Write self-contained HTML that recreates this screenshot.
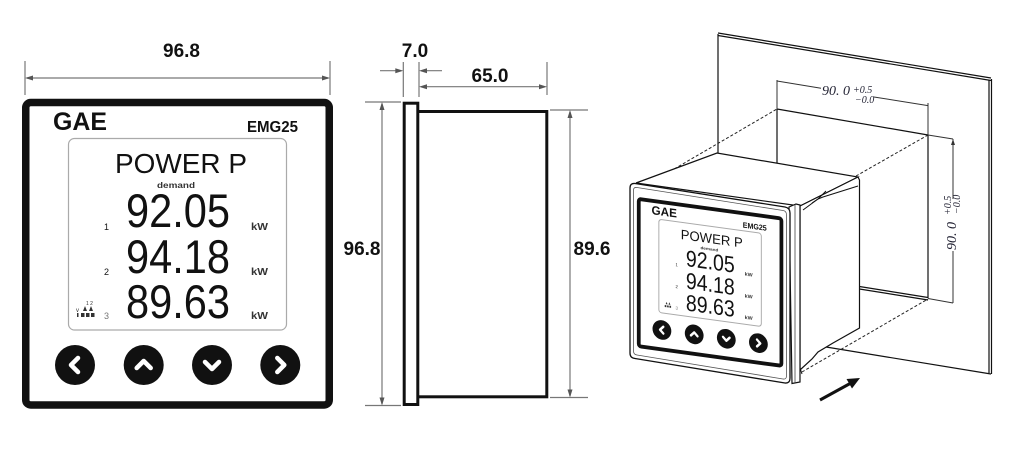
<!DOCTYPE html>
<html><head><meta charset="utf-8">
<style>html,body{margin:0;padding:0;background:#fff}svg{display:block}</style>
</head><body>
<svg width="1015" height="454" viewBox="0 0 1015 454" xmlns="http://www.w3.org/2000/svg" font-family="Liberation Sans, sans-serif">
<rect width="1015" height="454" fill="#fff"/>

<!-- ============ LEFT: front view ============ -->
<g stroke="#777" stroke-width="1.2" fill="none">
  <line x1="25" y1="61" x2="25" y2="95"/>
  <line x1="330" y1="61" x2="330" y2="95"/>
  <line x1="27" y1="78" x2="328" y2="78"/>
</g>
<polygon points="25,78 33,75.5 33,80.5" fill="#555"/>
<polygon points="330,78 322,75.5 322,80.5" fill="#555"/>
<text x="181.5" y="57" font-size="19" font-weight="bold" text-anchor="middle" fill="#111">96.8</text>

<g>
  <rect x="25.75" y="102.5" width="303.5" height="302.5" rx="5" fill="#fff" stroke="#111" stroke-width="7.5"/>
  <rect x="68.5" y="138.5" width="218" height="191.5" rx="6" fill="#fff" stroke="#aaa" stroke-width="1.2"/>
  <text x="53" y="130" font-size="25" font-weight="bold" textLength="54" lengthAdjust="spacingAndGlyphs" fill="#111">GAE</text>
  <text x="247" y="132" font-size="16" font-weight="bold" textLength="51" lengthAdjust="spacingAndGlyphs" fill="#111">EMG25</text>
  <text x="115" y="173" font-size="28" textLength="132" lengthAdjust="spacingAndGlyphs" fill="#111">POWER P</text>
  <text x="157" y="188" font-size="8" font-weight="bold" textLength="38" lengthAdjust="spacingAndGlyphs" fill="#333">demand</text>
  <text x="126" y="227" font-size="47" font-family="Liberation Sans Narrow, Liberation Sans, sans-serif" textLength="104" lengthAdjust="spacingAndGlyphs" fill="#111">92.05</text>
  <text x="126" y="273" font-size="47" font-family="Liberation Sans Narrow, Liberation Sans, sans-serif" textLength="104" lengthAdjust="spacingAndGlyphs" fill="#111">94.18</text>
  <text x="126" y="318" font-size="47" font-family="Liberation Sans Narrow, Liberation Sans, sans-serif" textLength="104" lengthAdjust="spacingAndGlyphs" fill="#111">89.63</text>
  <text x="104" y="230" font-size="9" fill="#111">1</text>
  <text x="104" y="275" font-size="9" fill="#111">2</text>
  <text x="104" y="319" font-size="9" fill="#777">3</text>
  <text x="251" y="230" font-size="10" font-weight="bold" textLength="17" lengthAdjust="spacingAndGlyphs" fill="#333">kW</text>
  <text x="251" y="275" font-size="10" font-weight="bold" textLength="17" lengthAdjust="spacingAndGlyphs" fill="#333">kW</text>
  <text x="251" y="319" font-size="10" font-weight="bold" textLength="17" lengthAdjust="spacingAndGlyphs" fill="#333">kW</text>
  <text x="86" y="305" font-size="5" fill="#333">1 2</text>
  <text x="76" y="312" font-size="6" fill="#333">v</text>
  <g fill="#333">
    <polygon points="83,311 85,306 87,311"/><polygon points="89,311 91,306 93,311"/>
    <rect x="77" y="313" width="1.5" height="4"/>
    <rect x="81" y="313" width="3.5" height="4"/><rect x="86" y="313" width="3.5" height="4"/><rect x="91" y="313" width="3.5" height="4"/>
  </g>
  <g fill="#111">
    <circle cx="75" cy="365" r="20"/><circle cx="143.7" cy="365" r="20"/>
    <circle cx="212" cy="365" r="20"/><circle cx="280.3" cy="365" r="20"/>
  </g>
  <g fill="none" stroke="#fff" stroke-width="4.5" stroke-linecap="round" stroke-linejoin="round">
    <polyline points="78,358 71,365 78,372"/>
    <polyline points="136.7,368 143.7,361 150.7,368"/>
    <polyline points="205,362 212,369 219,362"/>
    <polyline points="277.3,358 284.3,365 277.3,372"/>
  </g>
</g>

<!-- ============ MIDDLE: side view ============ -->
<rect x="410" y="111.5" width="136.8" height="285.3" fill="#fff" stroke="#111" stroke-width="3"/>
<rect x="404.2" y="103.2" width="13.6" height="301.3" fill="#fff" stroke="#111" stroke-width="3"/>
<g stroke="#777" stroke-width="1.2" fill="none">
  <line x1="365" y1="102" x2="401" y2="102"/>
  <line x1="365" y1="405.5" x2="401" y2="405.5"/>
  <line x1="382" y1="104" x2="382" y2="404"/>
  <line x1="550" y1="110" x2="588" y2="110"/>
  <line x1="550" y1="397.5" x2="588" y2="397.5"/>
  <line x1="570" y1="112" x2="570" y2="396"/>
  <line x1="403.3" y1="62" x2="403.3" y2="97"/>
  <line x1="419" y1="62" x2="419" y2="97"/>
  <line x1="547" y1="62" x2="547" y2="95"/>
  <line x1="380" y1="70.7" x2="401" y2="70.7"/>
  <line x1="421" y1="70.7" x2="442" y2="70.7"/>
  <line x1="421" y1="86.7" x2="545" y2="86.7"/>
</g>
<g fill="#555">
  <polygon points="382,102 379.5,110 384.5,110"/>
  <polygon points="382,405.5 379.5,397.5 384.5,397.5"/>
  <polygon points="570,110 567.5,118 572.5,118"/>
  <polygon points="570,397.5 567.5,389.5 572.5,389.5"/>
  <polygon points="403.3,70.7 395.3,68.2 395.3,73.2"/>
  <polygon points="419,70.7 427,68.2 427,73.2"/>
  <polygon points="419,86.7 427,84.2 427,89.2"/>
  <polygon points="547,86.7 539,84.2 539,89.2"/>
</g>
<g font-size="19" font-weight="bold" fill="#111" text-anchor="middle">
  <text x="415" y="57">7.0</text>
  <text x="490" y="82">65.0</text>
  <text x="362" y="255">96.8</text>
  <text x="592" y="255">89.6</text>
</g>

<!-- ============ RIGHT: isometric mounting view ============ -->
<!-- panel plate -->
<g stroke="#111" fill="none" stroke-width="1.2">
  <line x1="718" y1="33" x2="991" y2="78"/>
  <line x1="718" y1="35.5" x2="991" y2="80.5"/>
  <line x1="718" y1="34" x2="718" y2="160"/>
  <line x1="989" y1="80" x2="989" y2="373"/>
  <line x1="991.5" y1="79" x2="991.5" y2="374"/>
  <line x1="820" y1="346" x2="991" y2="374"/>
  <!-- cutout -->
  <line x1="777" y1="109" x2="928" y2="135"/>
  <line x1="777" y1="109" x2="777" y2="170"/>
  <line x1="928" y1="135" x2="928" y2="298"/>
  <line x1="850" y1="285" x2="928" y2="297.5"/>
  <line x1="850" y1="287.5" x2="928" y2="300"/>
</g>
<!-- dimensions on panel -->
<g stroke="#333" fill="none" stroke-width="1">
  <line x1="777" y1="80" x2="777" y2="109"/>
  <line x1="928" y1="103" x2="928" y2="135"/>
  <line x1="777" y1="81" x2="821" y2="88.2"/>
  <line x1="874" y1="97" x2="928" y2="105.6"/>
  <line x1="928" y1="135" x2="953" y2="139"/>
  <line x1="953" y1="139" x2="953" y2="199"/>
  <line x1="953" y1="251" x2="953" y2="303"/>
  <line x1="928" y1="298.5" x2="953" y2="303"/>
</g>
<polygon points="953,139 951,145 955,145" fill="#333"/>
<g font-family="Liberation Serif, serif" font-style="italic" fill="#223">
  <text x="822" y="95" font-size="14">90. 0</text>
  <text x="853" y="93" font-size="10">+0.5</text>
  <text x="855" y="103" font-size="10">−0.0</text>
  <g transform="translate(956,250) rotate(-90)">
    <text x="0" y="0" font-size="14">90. 0</text>
    <text x="35" y="-5" font-size="10">+0.5</text>
    <text x="36" y="4" font-size="10">−0.0</text>
  </g>
</g>
<!-- dashed projection lines -->
<g stroke="#222" stroke-width="1" stroke-dasharray="3,2" fill="none">
  <line x1="657" y1="179" x2="777" y2="109"/>
  <line x1="856" y1="176" x2="928" y2="135"/>
  <line x1="802" y1="372" x2="928" y2="299"/>
</g>
<!-- device body -->
<polygon points="636,183 717,153 858,177 800,206" fill="#fff" stroke="#111" stroke-width="1.2"/>
<polygon points="800,206 858,177 859.5,180 859.5,328 833,343 818,352 812,359 800,370" fill="#fff" stroke="#111" stroke-width="1.2"/>
<g stroke="#111" fill="none" stroke-width="1">
  <polyline points="803,210 818,199 823,197 858,186"/>
  <polyline points="812,203 818,199 826,191"/>
  <line x1="800" y1="368" x2="802" y2="374"/>
</g>
<!-- bezel -->
<polygon points="789,207 796,204 800,205 800,382 792,383.5" fill="#fff" stroke="#111" stroke-width="1.2"/>
<line x1="795" y1="205" x2="795" y2="383" stroke="#444" stroke-width="0.8"/>
<path d="M630,188 Q630,183 635,183.5 L785,207 Q790,208 790,213 L790,378 Q790,383.5 785,383 L635,358.5 Q630,358 630,353 Z" fill="#fff" stroke="#111" stroke-width="1.3"/>
<path d="M633.5,190 Q633.5,187 637,187.5 L783,210.5 Q786.5,211 786.5,215 L786.5,376 Q786.5,379.5 783,379 L637,355 Q633.5,354.5 633.5,351 Z" fill="none" stroke="#555" stroke-width="0.8"/>

<!-- front face (transformed copy) -->
<g transform="matrix(0.47,0.0644,0,0.487,626.66,147.37)">
  <rect x="25.75" y="102.5" width="303.5" height="302.5" rx="5" fill="#fff" stroke="#111" stroke-width="8"/>
  <rect x="68.5" y="138.5" width="218" height="191.5" rx="6" fill="#fff" stroke="#aaa" stroke-width="2"/>
  <text x="53" y="130" font-size="25" font-weight="bold" textLength="54" lengthAdjust="spacingAndGlyphs" fill="#111">GAE</text>
  <text x="247" y="132" font-size="16" font-weight="bold" textLength="51" lengthAdjust="spacingAndGlyphs" fill="#111">EMG25</text>
  <text x="115" y="173" font-size="28" textLength="132" lengthAdjust="spacingAndGlyphs" fill="#111">POWER P</text>
  <text x="157" y="188" font-size="8" font-weight="bold" textLength="38" lengthAdjust="spacingAndGlyphs" fill="#333">demand</text>
  <text x="126" y="227" font-size="47" font-family="Liberation Sans Narrow, Liberation Sans, sans-serif" textLength="104" lengthAdjust="spacingAndGlyphs" fill="#111">92.05</text>
  <text x="126" y="273" font-size="47" font-family="Liberation Sans Narrow, Liberation Sans, sans-serif" textLength="104" lengthAdjust="spacingAndGlyphs" fill="#111">94.18</text>
  <text x="126" y="318" font-size="47" font-family="Liberation Sans Narrow, Liberation Sans, sans-serif" textLength="104" lengthAdjust="spacingAndGlyphs" fill="#111">89.63</text>
  <text x="104" y="230" font-size="9" fill="#111">1</text>
  <text x="104" y="275" font-size="9" fill="#111">2</text>
  <text x="104" y="319" font-size="9" fill="#777">3</text>
  <text x="251" y="230" font-size="10" font-weight="bold" textLength="17" lengthAdjust="spacingAndGlyphs" fill="#333">kW</text>
  <text x="251" y="275" font-size="10" font-weight="bold" textLength="17" lengthAdjust="spacingAndGlyphs" fill="#333">kW</text>
  <text x="251" y="319" font-size="10" font-weight="bold" textLength="17" lengthAdjust="spacingAndGlyphs" fill="#333">kW</text>
  <g fill="#333">
    <rect x="81" y="313" width="3.5" height="4"/><rect x="86" y="313" width="3.5" height="4"/><rect x="91" y="313" width="3.5" height="4"/>
    <polygon points="83,311 85,306 87,311"/><polygon points="89,311 91,306 93,311"/>
  </g>
  <g fill="#111">
    <circle cx="75" cy="365" r="20"/><circle cx="143.7" cy="365" r="20"/>
    <circle cx="212" cy="365" r="20"/><circle cx="280.3" cy="365" r="20"/>
  </g>
  <g fill="none" stroke="#fff" stroke-width="5" stroke-linecap="round" stroke-linejoin="round">
    <polyline points="78,358 71,365 78,372"/>
    <polyline points="136.7,368 143.7,361 150.7,368"/>
    <polyline points="205,362 212,369 219,362"/>
    <polyline points="277.3,358 284.3,365 277.3,372"/>
  </g>
</g>

<!-- insertion arrow -->
<line x1="820" y1="400" x2="851" y2="383" stroke="#111" stroke-width="3"/>
<polygon points="860,378 852,388.5 846.5,379" fill="#111"/>
</svg>
</body></html>
